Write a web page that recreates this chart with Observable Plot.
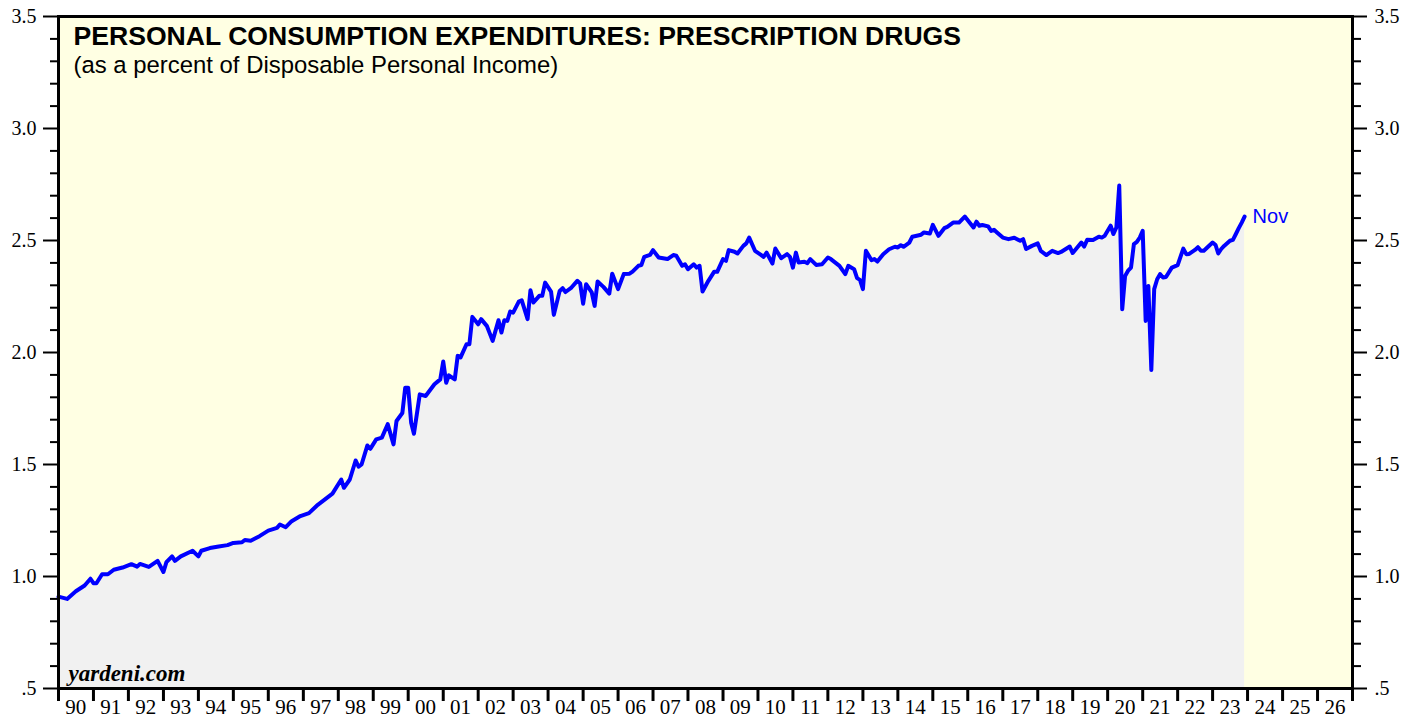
<!DOCTYPE html>
<html>
<head>
<meta charset="utf-8">
<script src="https://cdn.jsdelivr.net/npm/d3@7"></script>
<script src="https://cdn.jsdelivr.net/npm/@observablehq/plot@0.6"></script>
<style>
  html, body { margin: 0; padding: 0; background: #ffffff; }
  #chart svg { display: block; }
</style>
</head>
<body>
<div id="chart"></div>
<script>
// Observation months (plotted at month end) and values (% of disposable personal income)
const months = [
"1989-12","1990-03","1990-06","1990-09","1990-11","1990-12","1991-01","1991-03","1991-05","1991-07","1991-10",
"1992-01","1992-03","1992-04","1992-07","1992-10","1992-12","1993-01","1993-03","1993-04","1993-06","1993-10","1993-12",
"1994-01","1994-04","1994-07","1994-10","1994-12","1995-03","1995-04","1995-06","1995-09","1995-12",
"1996-03","1996-04","1996-06","1996-08","1996-11","1997-02","1997-05","1997-10",
"1998-01","1998-02","1998-04","1998-06","1998-07","1998-08","1998-10","1998-11",
"1999-01","1999-03","1999-05","1999-07","1999-08","1999-10","1999-11","1999-12",
"2000-01","2000-02","2000-04","2000-06","2000-09","2000-11","2000-12",
"2001-01","2001-02","2001-04","2001-05","2001-06","2001-08","2001-09","2001-10","2001-12",
"2002-01","2002-03","2002-05","2002-07","2002-08","2002-09","2002-10","2002-11","2002-12",
"2003-02","2003-03","2003-05","2003-06","2003-07","2003-09","2003-10","2003-11",
"2004-01","2004-02","2004-04","2004-05","2004-06","2004-08","2004-10","2004-11","2004-12",
"2005-01","2005-03","2005-04","2005-05","2005-07","2005-09","2005-10","2005-12",
"2006-02","2006-04","2006-05","2006-07","2006-08","2006-09","2006-11","2006-12",
"2007-02","2007-05","2007-07","2007-08","2007-10","2007-11","2007-12",
"2008-02","2008-03","2008-04","2008-05","2008-07","2008-09","2008-10","2008-12",
"2009-01","2009-02","2009-04","2009-05","2009-07","2009-08","2009-09","2009-11",
"2010-01","2010-02","2010-03","2010-05","2010-06","2010-08","2010-10","2010-11","2010-12",
"2011-01","2011-02","2011-04","2011-05","2011-06","2011-08","2011-10","2011-12",
"2012-01","2012-03","2012-04","2012-06","2012-07","2012-09","2012-10","2012-11","2012-12",
"2013-01","2013-03","2013-04","2013-05","2013-07","2013-09","2013-11","2013-12",
"2014-01","2014-02","2014-04","2014-05","2014-08","2014-09","2014-11","2014-12",
"2015-02","2015-04","2015-05","2015-07","2015-09","2015-11",
"2016-02","2016-03","2016-04","2016-05","2016-07","2016-08","2016-09","2016-10","2016-12",
"2017-02","2017-04","2017-06","2017-07","2017-08","2017-10","2017-12",
"2018-01","2018-03","2018-05","2018-07","2018-08","2018-11","2018-12",
"2019-03","2019-04","2019-05","2019-07","2019-09","2019-10","2019-11",
"2020-01","2020-02","2020-03","2020-04","2020-05","2020-06","2020-07","2020-08","2020-09","2020-10","2020-11","2020-12",
"2021-01","2021-02","2021-03","2021-04","2021-05","2021-06","2021-07","2021-08","2021-10","2021-12",
"2022-02","2022-03","2022-04","2022-06","2022-07","2022-08","2022-09","2022-11","2022-12",
"2023-01","2023-02","2023-03","2023-04","2023-06","2023-07","2023-08","2023-09","2023-10","2023-11"
];
const values = [
0.91,0.90,0.934,0.96,0.99,0.97,0.97,1.01,1.01,1.03,1.04,
1.055,1.044,1.056,1.043,1.07,1.02,1.064,1.09,1.07,1.09,1.115,1.09,
1.115,1.127,1.134,1.14,1.15,1.153,1.163,1.16,1.18,1.205,
1.217,1.232,1.22,1.247,1.27,1.283,1.32,1.37,
1.433,1.396,1.433,1.518,1.49,1.50,1.585,1.57,
1.612,1.62,1.68,1.59,1.694,1.73,1.843,1.843,
1.686,1.637,1.813,1.806,1.858,1.88,1.96,
1.865,1.898,1.88,1.985,1.978,2.037,2.037,2.159,2.126,
2.149,2.119,2.052,2.144,2.089,2.144,2.141,2.183,2.178,
2.227,2.233,2.149,2.278,2.223,2.253,2.253,2.312,
2.272,2.168,2.275,2.287,2.27,2.29,2.32,2.308,2.218,
2.305,2.268,2.208,2.317,2.293,2.263,2.352,2.283,
2.35,2.352,2.361,2.387,2.39,2.427,2.436,2.457,
2.424,2.417,2.435,2.432,2.387,2.394,2.372,
2.394,2.379,2.387,2.272,2.32,2.361,2.36,2.417,
2.409,2.457,2.45,2.442,2.476,2.487,2.513,2.454,
2.436,2.427,2.446,2.397,2.464,2.421,2.439,2.427,2.379,
2.446,2.402,2.405,2.399,2.417,2.391,2.394,2.424,
2.417,2.397,2.387,2.35,2.387,2.372,2.332,2.324,2.283,
2.454,2.412,2.417,2.406,2.439,2.461,2.472,2.469,
2.479,2.472,2.491,2.517,2.526,2.536,2.531,2.57,
2.521,2.555,2.561,2.58,2.58,2.607,
2.558,2.584,2.566,2.569,2.563,2.543,2.548,2.536,2.513,
2.506,2.512,2.499,2.506,2.462,2.476,2.487,
2.454,2.435,2.454,2.444,2.449,2.473,2.444,
2.491,2.473,2.503,2.502,2.517,2.513,2.521,
2.566,2.529,2.558,2.745,2.193,2.342,2.365,2.379,2.484,2.494,2.513,2.543,
2.141,2.297,1.922,2.283,2.327,2.35,2.335,2.337,2.379,2.39,
2.464,2.439,2.44,2.458,2.47,2.454,2.454,2.479,2.491,
2.48,2.442,2.462,2.476,2.499,2.503,2.529,2.555,2.58,2.607
];

// Axis ticks and labels
const yTicks = [0.5, 1.0, 1.5, 2.0, 2.5, 3.0, 3.5];
const yTickLabels = [".5", "1.0", "1.5", "2.0", "2.5", "3.0", "3.5"];
const yMinorTicks = [0.6,0.7,0.8,0.9,1.1,1.2,1.3,1.4,1.6,1.7,1.8,1.9,2.1,2.2,2.3,2.4,2.6,2.7,2.8,2.9,3.1,3.2,3.3,3.4];
const years = d3.range(1990, 2028);
const yearLabels = ["90","91","92","93","94","95","96","97","98","99","00","01","02","03","04","05","06","07","08","09",
  "10","11","12","13","14","15","16","17","18","19","20","21","22","23","24","25","26"];

const title = "PERSONAL CONSUMPTION EXPENDITURES: PRESCRIPTION DRUGS";
const subtitle = "(as a percent of Disposable Personal Income)";
const source = "yardeni.com";
const lastLabel = "Nov";

const parse = d3.utcParse("%Y-%m");
const data = months.map((m, i) => ({date: d3.utcMonth.offset(parse(m), 1), value: values[i]}));
const last = data[data.length - 1];

const yearStarts = years.map(y => new Date(Date.UTC(y, 0, 1)));
const yearMids = years.slice(0, -1).map(y => new Date(Date.UTC(y, 6, 1)));

const serif = "'Liberation Serif', 'Times New Roman', Times, serif";
const sans = "'Liberation Sans', Arial, Helvetica, sans-serif";

const chart = Plot.plot({
  width: 1419,
  height: 719,
  marginLeft: 58,
  marginRight: 67,
  marginTop: 16,
  marginBottom: 31,
  style: {background: "#ffffff", overflow: "visible"},
  x: {type: "utc", domain: [yearStarts[0], yearStarts[yearStarts.length - 1]], axis: null},
  y: {domain: [0.5, 3.5], axis: null},
  marks: [
    Plot.frame({fill: "#ffffe3", stroke: null}),
    Plot.areaY(data, {x: "date", y1: 0.5, y2: "value", fill: "#f1f1f1", curve: "linear"}),
    Plot.lineY(data, {x: "date", y: "value", stroke: "#0000ff", strokeWidth: 4, strokeLinejoin: "round"}),
    Plot.text([last], {x: "date", y: "value", text: () => lastLabel, dx: 8, dy: 0, textAnchor: "start",
      fill: "#0000ff", fontSize: 20, fontFamily: sans}),
    Plot.text([title], {frameAnchor: "top-left", text: d => d, dx: 15, dy: 28, lineAnchor: "bottom",
      fontSize: 26.6, fontWeight: "bold", fontFamily: sans, fill: "#000"}),
    Plot.text([subtitle], {frameAnchor: "top-left", text: d => d, dx: 15, dy: 56, lineAnchor: "bottom",
      fontSize: 23.9, fontFamily: sans, fill: "#000"}),
    Plot.text([source], {frameAnchor: "bottom-left", text: d => d, dx: 10, dy: -8, lineAnchor: "bottom",
      fontSize: 23, fontWeight: "bold", fontStyle: "italic", fontFamily: serif, fill: "#000"}),
    // left axis
    Plot.axisY(yTicks, {anchor: "left", label: null, tickSize: 15, tickPadding: 7, strokeWidth: 2,
      tickFormat: d => yTickLabels[yTicks.indexOf(d)], fontSize: 20, fontFamily: serif}),
    Plot.axisY(yMinorTicks, {anchor: "left", label: null, tickSize: 8, strokeWidth: 2, tickFormat: () => ""}),
    // right axis
    Plot.axisY(yTicks, {anchor: "right", label: null, tickSize: 14, tickPadding: 8, strokeWidth: 2,
      tickFormat: d => yTickLabels[yTicks.indexOf(d)], fontSize: 20, fontFamily: serif}),
    Plot.axisY(yMinorTicks, {anchor: "right", label: null, tickSize: 8, strokeWidth: 2, tickFormat: () => ""}),
    // bottom axis
    Plot.axisX(yearStarts, {anchor: "bottom", label: null, tickSize: 13, strokeWidth: 3, tickFormat: () => ""}),
    Plot.axisX(yearMids, {anchor: "bottom", label: null, tickSize: 0, tickPadding: 11,
      tickFormat: d => yearLabels[d.getUTCFullYear() - 1990], fontSize: 21, fontFamily: serif}),
    Plot.frame({stroke: "#000", strokeWidth: 3})
  ]
});
document.getElementById("chart").append(chart);
</script>
</body>
</html>
